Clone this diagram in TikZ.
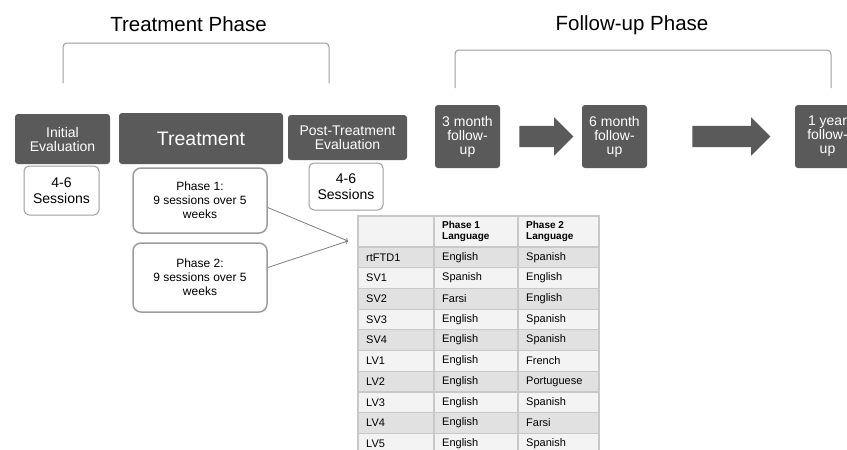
\documentclass[tikz,border=0pt]{standalone}
\usepackage{fontspec}
\setmainfont{Liberation Sans}
\usepackage{tikz}
\usetikzlibrary{shapes.arrows,calc}
\definecolor{boxgray}{HTML}{5A5A5A}
\definecolor{linegray}{HTML}{9C9C9C}
\definecolor{gridgray}{HTML}{C8C8C8}
\definecolor{rowdark}{HTML}{E1E1E1}
\definecolor{rowlight}{HTML}{F3F3F3}
\tikzset{
  darkbox/.style={fill=boxgray, text=white, rounded corners=3pt, inner sep=0pt, align=center, font=\fontsize{14}{14}\selectfont},
  sessbox/.style={draw=linegray, line width=1pt, fill=white, rounded corners=5pt, inner sep=0pt, align=center, font=\fontsize{14}{16.5}\selectfont},
  phasebox/.style={draw=linegray, line width=1.5pt, fill=white, rounded corners=8pt, inner sep=0pt, align=center, font=\fontsize{12}{14}\selectfont},
  blockarrow/.style={single arrow, fill=boxgray, inner xsep=0pt, inner ysep=10.5pt, single arrow head extend=8.5pt},
  linkarrow/.style={->, >=to, draw=gray, line width=0.8pt},
  bracket/.style={draw=linegray, line width=1pt, rounded corners=4pt},
  cell/.style={anchor=west, inner sep=0pt, font=\fontsize{11}{12}\selectfont},
  headcell/.style={anchor=west, inner sep=0pt, align=left, font=\bfseries\fontsize{10}{11.5}\selectfont}
}

\begin{document}
\begin{tikzpicture}[x=1pt,y=-1pt]
\clip (0,0) rectangle (847,450);
\fill[white] (0,0) rectangle (847,450);
% Drawing phase titles and brackets
\node (trtitle) at (188.5,24) {\fontsize{20.5}{22}\selectfont Treatment Phase};
\node (futitle) at (632,25) {\fontsize{20.5}{22}\selectfont Follow-up Phase};
\draw[bracket] (63,83) -- (63,43) -- (329,43) -- (329,83);
\draw[bracket] (455,88) -- (455,50) -- (831,50) -- (831,88);
% Treatment phase boxes
\node[darkbox, minimum width=95pt, minimum height=50pt] (initial) at (62.5,139) {Initial\\Evaluation};
\node[darkbox, minimum width=164pt, minimum height=51pt, font=\fontsize{19.5}{20}\selectfont] (treat) at (201,138.5) {Treatment};
\node[darkbox, minimum width=119pt, minimum height=45pt] (post) at (347.5,137.5) {Post-Treatment\\Evaluation};
\node[sessbox, minimum width=75pt, minimum height=49pt] (initsess) at (61.5,190.5) {4-6\\Sessions};
\node[phasebox, minimum width=134pt, minimum height=65pt] (phase1) at (200,200.5) {Phase 1:\\9 sessions over 5\\weeks};
\node[phasebox, minimum width=134pt, minimum height=69pt] (phase2) at (200,277.5) {Phase 2:\\9 sessions over 5\\weeks};
\node[sessbox, minimum width=74pt, minimum height=47pt] (postsess) at (346,186.5) {4-6\\Sessions};
% Follow-up boxes
\node[darkbox, minimum width=65pt, minimum height=63pt] (fu3) at (467.5,136.5) {3 month\\follow-\\up};
\node[darkbox, minimum width=65pt, minimum height=63pt] (fu6) at (614.5,136.5) {6 month\\follow-\\up};
\node[darkbox, minimum width=65pt, minimum height=63pt] (fu12) at (827.5,136.5) {1 year\\follow-\\up};
\node[blockarrow, minimum height=54pt] (arrA) at ($(fu3.east)!0.5!(fu6.west)$) {};
\node[blockarrow, minimum height=78pt, xshift=5pt] (arrB) at ($(fu6.east)!0.5!(fu12.west)$) {};
% Language table
\foreach \r in {1,...,10} {
  \ifodd\r \def\rowcol{rowdark}\else\def\rowcol{rowlight}\fi
  \fill[\rowcol] (358,{247+(\r-1)*20.7}) rectangle (599,{247+\r*20.7});
}
\fill[rowlight] (358,216) rectangle (599,247);
\draw[gridgray, line width=1.2pt] (358,216) rectangle (599,454);
\draw[gridgray, line width=1.2pt] (434,216) -- (434,454) (518,216) -- (518,454);
\foreach \r in {0,...,9}
  \draw[gridgray, line width=1.2pt] (358,{247+\r*20.7}) -- (599,{247+\r*20.7});
\node[headcell] (head1) at (442,231.5) {Phase 1\\Language};
\node[headcell] (head2) at (526,231.5) {Phase 2\\Language};
\foreach \id/\la/\lb [count=\r] in {rtFTD1/English/Spanish, SV1/Spanish/English, SV2/Farsi/English,
    SV3/English/Spanish, SV4/English/Spanish, LV1/English/French, LV2/English/Portuguese,
    LV3/English/Spanish, LV4/English/Farsi, LV5/English/Spanish} {
  \node[cell] (id-\r) at (366,{247+(\r-0.5)*20.7}) {\id};
  \node[cell] (lang1-\r) at (442,{247+(\r-0.5)*20.7}) {\la};
  \node[cell] (lang2-\r) at (526,{247+(\r-0.5)*20.7}) {\lb};
}
% Links from phases to table
\coordinate (tabin) at (348,241);
\draw[linkarrow] ([yshift=-7pt]phase1.east) -- (tabin);
\draw[linkarrow] ([yshift=10pt]phase2.east) -- (tabin);
\end{tikzpicture}
\end{document}
